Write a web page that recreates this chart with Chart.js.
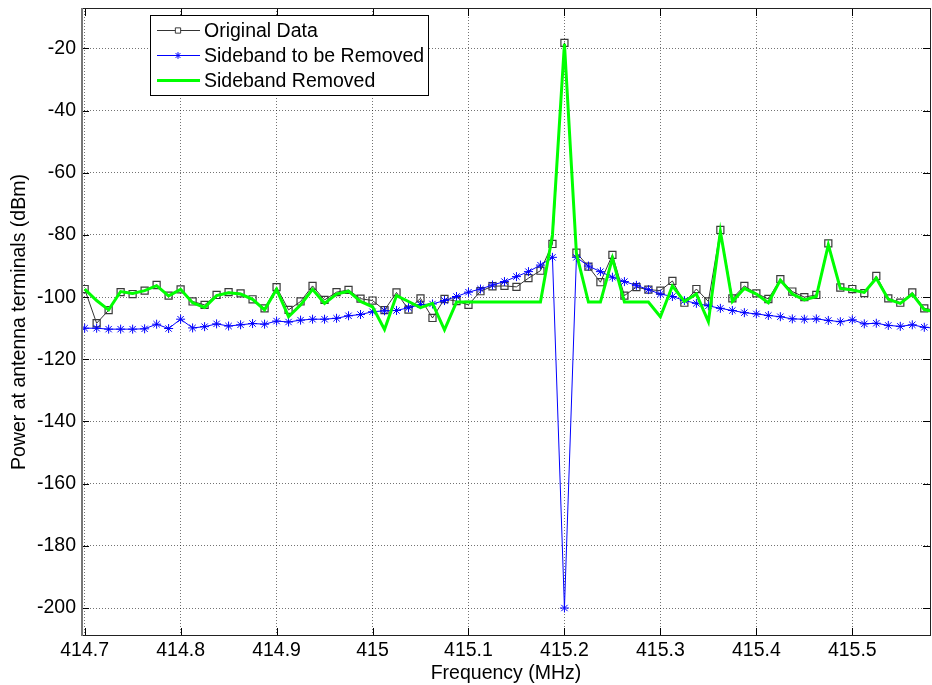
<!DOCTYPE html>
<html>
<head>
<meta charset="utf-8">
<script src="https://cdn.jsdelivr.net/npm/chart.js"></script>
<style>
  html, body { margin: 0; padding: 0; background: #fff; overflow: hidden; }
  #wrap { width: 932px; height: 685px; overflow: hidden; }
  #c { display: block; }
</style>
</head>
<body>
<div id="wrap"><canvas id="c" width="932" height="685"></canvas></div>
<script>
// ---------- DATA ----------
const freqMHz = [
  414.7, 414.7125, 414.725, 414.7375, 414.75, 414.7625, 414.775, 414.7875,
  414.8, 414.8125, 414.825, 414.8375, 414.85, 414.8625, 414.875, 414.8875,
  414.9, 414.9125, 414.925, 414.9375, 414.95, 414.9625, 414.975, 414.9875,
  415.0, 415.0125, 415.025, 415.0375, 415.05, 415.0625, 415.075, 415.0875,
  415.1, 415.1125, 415.125, 415.1375, 415.15, 415.1625, 415.175, 415.1875,
  415.2, 415.2125, 415.225, 415.2375, 415.25, 415.2625, 415.275, 415.2875,
  415.3, 415.3125, 415.325, 415.3375, 415.35, 415.3625, 415.375, 415.3875,
  415.4, 415.4125, 415.425, 415.4375, 415.45, 415.4625, 415.475, 415.4875,
  415.5, 415.5125, 415.525, 415.5375, 415.55, 415.5625, 415.575, 415.5875
];

const originalData = [
  -97.4, -108.4, -104.2, -98.4, -99.0, -97.9, -96.1, -99.5,
  -97.5, -101.4, -102.5, -99.3, -98.4, -98.8, -100.7, -103.6,
  -96.8, -104.1, -101.4, -96.4, -100.9, -98.4, -97.7, -100.5,
  -101.1, -104.2, -98.5, -104.0, -100.4, -106.7, -100.6, -101.3,
  -102.5, -98.1, -96.5, -96.4, -96.7, -93.9, -91.5, -82.9,
  -18.2, -85.7, -90.2, -95.2, -86.4, -99.5, -96.8, -97.6,
  -97.9, -94.8, -101.8, -97.4, -101.4, -78.4, -100.4, -96.4,
  -98.8, -100.6, -94.2, -98.2, -100.0, -99.3, -82.7, -96.9,
  -97.4, -98.7, -93.2, -100.4, -101.8, -98.5, -103.6, -104.3
];

const sidebandToRemove = [
  -110.0, -110.0, -110.3, -110.3, -110.3, -110.2, -108.7, -110.1,
  -107.1, -109.9, -109.5, -108.6, -109.3, -108.9, -108.5, -108.7,
  -107.7, -108.0, -107.4, -107.1, -107.1, -106.8, -106.0, -105.6,
  -104.7, -104.4, -104.3, -103.4, -102.4, -102.2, -101.1, -99.8,
  -98.4, -97.4, -96.1, -95.0, -93.4, -91.8, -89.7, -87.2,
  -200.0, -87.2, -90.0, -91.8, -93.6, -95.0, -96.2, -97.6,
  -99.0, -99.8, -101.1, -102.0, -102.8, -103.6, -104.3, -105.0,
  -105.4, -105.9, -106.3, -107.0, -107.1, -107.0, -107.5, -107.9,
  -107.3, -108.6, -108.4, -109.1, -109.4, -108.9, -109.7, -110.0
];

const sidebandRemoved = [
  -97.4, -101.1, -104.1, -98.2, -98.8, -97.9, -96.3, -99.6,
  -97.5, -101.8, -103.3, -99.5, -98.6, -99.0, -100.7, -104.1,
  -97.5, -106.3, -102.5, -97.5, -102.0, -99.0, -98.1, -101.4,
  -103.1, -110.4, -99.5, -101.4, -103.4, -102.0, -110.5, -101.6,
  -101.6, -101.6, -101.6, -101.6, -101.6, -101.6, -101.6, -80.0,
  -18.5, -86.0, -101.6, -101.6, -87.5, -101.6, -101.6, -101.6,
  -106.3, -96.4, -101.4, -99.0, -107.9, -78.9, -101.4, -97.2,
  -99.0, -101.8, -94.5, -99.0, -100.9, -99.8, -83.2, -97.2,
  -97.7, -98.5, -93.9, -100.7, -102.0, -99.0, -104.0, -104.8
];

const seriesLabels = ['Original Data', 'Sideband to be Removed', 'Sideband Removed'];
const xTickValues = [414.7, 414.8, 414.9, 415.0, 415.1, 415.2, 415.3, 415.4, 415.5];
const yTickValues = [-200, -180, -160, -140, -120, -100, -80, -60, -40, -20];
const xLimits = [414.6962, 415.582];
const yLimits = [-209, -7];
const xTitle = 'Frequency (MHz)';
const yTitle = 'Power at antenna terminals (dBm)';

// ---------- STYLE ----------
const FONT = "'Liberation Sans', Arial, Helvetica, sans-serif";
const FSIZE = 19.5;

function toPoints(ys) { return ys.map((y, i) => ({ x: freqMHz[i], y: y })); }

function zeroPad(s) { s.paddingTop = 0; s.paddingBottom = 0; s.paddingLeft = 0; s.paddingRight = 0; }

const framePlugin = {
  id: 'matlabFrame',
  afterDatasetsDraw(chart) {
    const ctx = chart.ctx, a = chart.chartArea;
    const xs = chart.scales.x, ys = chart.scales.y;
    ctx.save();
    ctx.strokeStyle = '#000';
    ctx.lineWidth = 1;
    ctx.beginPath();
    xTickValues.forEach(v => {
      const px = Math.round(xs.getPixelForValue(v)) + 0.5;
      ctx.moveTo(px, a.bottom); ctx.lineTo(px, a.bottom - 8);
      ctx.moveTo(px, a.top); ctx.lineTo(px, a.top + 8);
    });
    yTickValues.forEach(v => {
      const py = Math.round(ys.getPixelForValue(v)) + 0.5;
      ctx.moveTo(a.left, py); ctx.lineTo(a.left + 8, py);
      ctx.moveTo(a.right, py); ctx.lineTo(a.right - 8, py);
    });
    ctx.stroke();
    ctx.strokeStyle = '#222';
    ctx.lineWidth = 1;
    ctx.beginPath();
    ctx.moveTo(a.left, a.top + 0.5); ctx.lineTo(a.right, a.top + 0.5);
    ctx.moveTo(a.left, a.bottom - 0.5); ctx.lineTo(a.right, a.bottom - 0.5);
    ctx.moveTo(a.right - 0.5, a.top); ctx.lineTo(a.right - 0.5, a.bottom);
    ctx.stroke();
    ctx.strokeStyle = '#777';
    ctx.lineWidth = 2;
    ctx.beginPath();
    ctx.moveTo(a.left + 1, a.top); ctx.lineTo(a.left + 1, a.bottom);
    ctx.stroke();

    const x0 = a.left + 69, y0 = a.top + 7, w = 278, h = 80;
    ctx.fillStyle = '#fff';
    ctx.fillRect(x0, y0, w, h);
    ctx.strokeStyle = '#000';
    ctx.lineWidth = 1;
    ctx.strokeRect(x0 + 0.5, y0 + 0.5, w, h);
    chart.data.datasets.forEach((ds, i) => {
      const y = y0 + 15.5 + i * 25;
      ctx.strokeStyle = ds.borderColor;
      ctx.lineWidth = ds.borderWidth;
      ctx.beginPath();
      ctx.moveTo(x0 + 7, y); ctx.lineTo(x0 + 50, y);
      ctx.stroke();
      if (ds.pointRadius > 0) {
        const opts = { pointStyle: ds.pointStyle, radius: ds.pointRadius * 0.75, borderWidth: 1, rotation: 0 };
        ctx.strokeStyle = ds.pointBorderColor;
        ctx.fillStyle = '#fff';
        ctx.lineWidth = 1;
        if (Chart.helpers && Chart.helpers.drawPoint) {
          Chart.helpers.drawPoint(ctx, opts, x0 + 28, y);
        }
      }
      ctx.fillStyle = '#000';
      ctx.font = FSIZE + 'px ' + FONT;
      ctx.textBaseline = 'middle';
      ctx.textAlign = 'left';
      ctx.fillText(ds.label, x0 + 54, y + 1);
    });
    ctx.restore();
  }
};

new Chart(document.getElementById('c'), {
  type: 'line',
  data: {
    datasets: [
      {
        label: seriesLabels[0],
        data: toPoints(originalData),
        borderColor: 'rgba(30,30,30,0.9)',
        borderWidth: 1,
        pointStyle: 'rect',
        pointRadius: 5,
        pointBorderColor: '#3a3a3a',
        pointBorderWidth: 1.2,
        pointBackgroundColor: 'rgba(0,0,0,0)',
        order: 3,
        clip: 0
      },
      {
        label: seriesLabels[1],
        data: toPoints(sidebandToRemove),
        borderColor: '#0000ff',
        borderWidth: 1,
        pointStyle: 'star',
        pointRadius: 4.5,
        pointBorderColor: '#0000ff',
        pointBorderWidth: 1,
        pointBackgroundColor: '#0000ff',
        order: 2,
        clip: 0
      },
      {
        label: seriesLabels[2],
        data: toPoints(sidebandRemoved),
        borderColor: '#00ff00',
        borderWidth: 3,
        pointRadius: 0,
        order: 1,
        clip: 0
      }
    ]
  },
  options: {
    responsive: false,
    animation: false,
    events: [],
    layout: { autoPadding: false, padding: { top: 8, right: 1, bottom: 0, left: 8 } },
    elements: { line: { tension: 0 } },
    plugins: {
      legend: { display: false },
      tooltip: { enabled: false },
      title: { display: false }
    },
    scales: {
      x: {
        type: 'linear',
        min: xLimits[0],
        max: xLimits[1],
        afterBuildTicks: s => { s.ticks = xTickValues.map(v => ({ value: v })); },
        afterFit: s => { s.height = 49; zeroPad(s); },
        grid: { color: 'rgba(0,0,0,0.55)', lineWidth: 1, drawTicks: false },
        border: { display: false, dash: [1, 2] },
        ticks: {
          color: '#000',
          padding: 3,
          maxRotation: 0,
          autoSkip: false,
          font: { family: FONT, size: FSIZE },
          callback: v => String(Number(v.toFixed(1)))
        },
        title: {
          display: true, text: xTitle, color: '#000',
          padding: 0,
          font: { family: FONT, size: FSIZE }
        }
      },
      y: {
        type: 'linear',
        min: yLimits[0],
        max: yLimits[1],
        afterBuildTicks: s => { s.ticks = yTickValues.map(v => ({ value: v })); },
        afterFit: s => { s.width = 73; zeroPad(s); },
        grid: { color: 'rgba(0,0,0,0.55)', lineWidth: 1, drawTicks: false },
        border: { display: false, dash: [1, 2] },
        ticks: {
          color: '#000',
          padding: 5,
          autoSkip: false,
          font: { family: FONT, size: FSIZE },
          callback: v => String(v)
        },
        title: {
          display: true, text: yTitle, color: '#000',
          padding: 0,
          font: { family: FONT, size: FSIZE }
        }
      }
    }
  },
  plugins: [framePlugin]
});
</script>
</body>
</html>
